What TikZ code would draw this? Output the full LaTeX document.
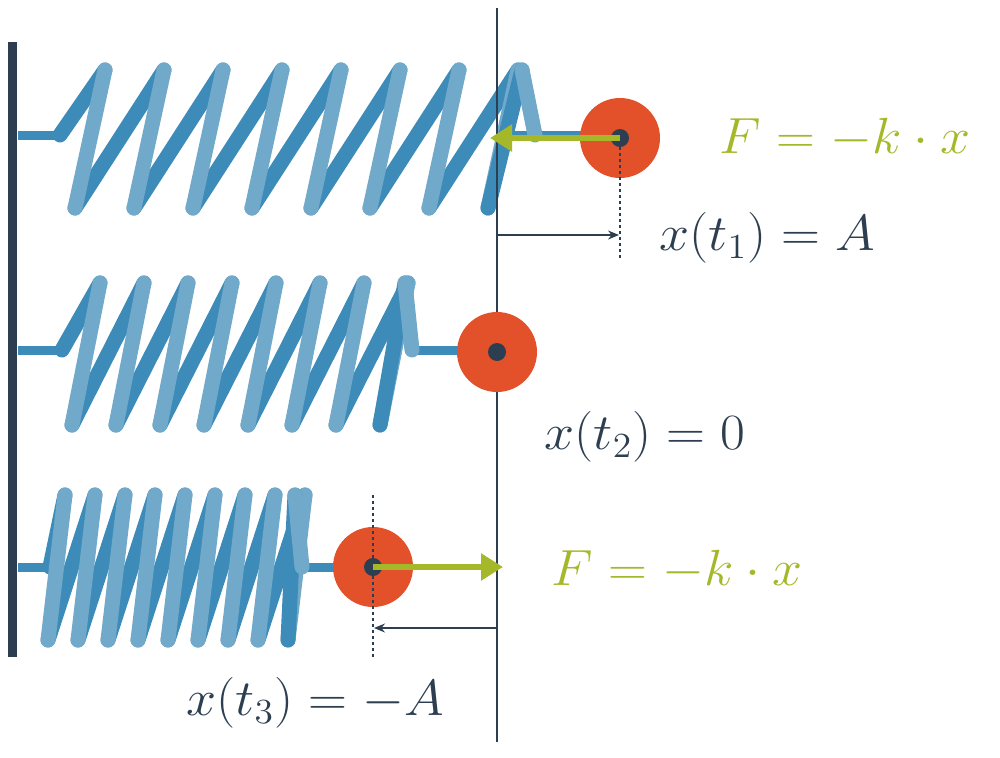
\documentclass[tikz,border=0pt]{standalone}
\usetikzlibrary{arrows.meta}
\definecolor{dk}{HTML}{2C3E50}
\definecolor{sb}{HTML}{3D8BB8}
\definecolor{sf}{HTML}{70A9C9}
\definecolor{rd}{HTML}{E2512A}
\definecolor{gr}{HTML}{A5B82A}
\tikzset{
 back/.style={sb,line width=15pt,line cap=round},
 front/.style={sf,line width=15pt,line cap=round},
 rod/.style={sb,line width=9pt},
 mass/.style={circle,fill=rd,minimum size=80pt,inner sep=0pt},
 dot/.style={circle,fill=dk,minimum size=18pt,inner sep=0pt},
 force/.style={gr,line width=6pt,-{Triangle[length=22pt,width=26pt]}},
 meas/.style={dk,line width=1.5pt,-{Stealth[length=11pt,width=9pt]}},
 lbl/.style={font=\huge},
}
\newcommand{\mybig}[1]{\scalebox{2.6}[2.45]{#1}}
\newcommand{\myspring}[8]{% n, top0, bot0, step, ytop, ybot, ymid, xstart
 \draw[back] (#8,#7) -- (#2,#5);
 \foreach \i in {0,...,#1}{
   \pgfmathsetmacro{\tx}{#2+#4*\i}\pgfmathsetmacro{\bx}{#3+#4*\i}
   \pgfmathsetmacro{\nx}{#2+#4*(\i+1)}
   \pgfmathtruncatemacro{\last}{\i==#1}
   \ifnum\last=0 \draw[back] (\bx,#6) -- (\nx,#5);\fi
 }
 \foreach \i in {0,...,#1}{
   \pgfmathsetmacro{\tx}{#2+#4*\i}\pgfmathsetmacro{\bx}{#3+#4*\i}
   \draw[front] (\tx,#5) -- (\bx,#6);
 }
}
\begin{document}
\begin{tikzpicture}[x=1pt,y=-1pt]
\useasboundingbox (0,0) rectangle (1000,757);
% spring 1
\draw[rod] (18,135) -- (60,135);
\draw[rod] (500,135) -- (600,135);
\myspring{7}{105}{75}{59}{70}{208}{135}{60}
\draw[back] (488,208) -- (522,70);
\draw[front] (522,70) -- (535,135);
% spring 2
\draw[rod] (18,350) -- (60,350);
\draw[rod] (410,350) -- (470,350);
\myspring{7}{100}{72}{44}{283}{425}{350}{62}
\draw[back] (380,425) -- (405,283);
\draw[front] (405,283) -- (412,350);
% spring 3
\draw[rod] (18,567) -- (50,567);
\draw[rod] (300,567) -- (345,567);
\myspring{8}{65}{48}{30}{495}{640}{567}{50}
\draw[back] (288,640) -- (295,495);
\draw[front] (295,495) -- (302,567);
% wall and reference line
\draw[dk,line width=9pt] (12,42) -- (12,657);
\draw[dk,line width=2.5pt] (497,8) -- (497,742);
% mass 1
\node[mass] (m1) at (620,138) {};
\node[dot] (d1) at (620,138) {};
\coordinate (f1) at (490,138);
\draw[force] (d1.center) -- (f1);
\node[lbl,text=gr] (F1) at (845,138) {\mybig{$F=-k\cdot x$}};
\coordinate (a1) at (620,258);
\draw[dk,dashed,line width=1.2pt] (d1) -- (a1);
\coordinate (s1) at (497,235);\coordinate (e1) at (619,235);
\draw[meas] (s1) -- (e1);
\node[lbl,text=dk] (X1) at (767,238) {\mybig{$x(t_1)=A$}};
% mass 2
\node[mass] (m2) at (497,352) {};
\node[dot] (d2) at (497,352) {};
\node[lbl,text=dk] (X2) at (645,437) {\mybig{$x(t_2)=0$}};
% mass 3
\node[mass] (m3) at (373,567) {};
\node[dot] (d3) at (373,567) {};
\coordinate (f3) at (503,567);
\draw[force] (d3.center) -- (f3);
\node[lbl,text=gr] (F3) at (677,570) {\mybig{$F=-k\cdot x$}};
\coordinate (a3t) at (373,495);\coordinate (a3b) at (373,657);
\draw[dk,dashed,line width=1.2pt] (a3t) -- (d3) -- (a3b);
\coordinate (s3) at (497,628);\coordinate (e3) at (374,628);
\draw[meas] (s3) -- (e3);
\node[lbl,text=dk] (X3) at (315,703) {\mybig{$x(t_3)=-A$}};
\end{tikzpicture}
\end{document}
